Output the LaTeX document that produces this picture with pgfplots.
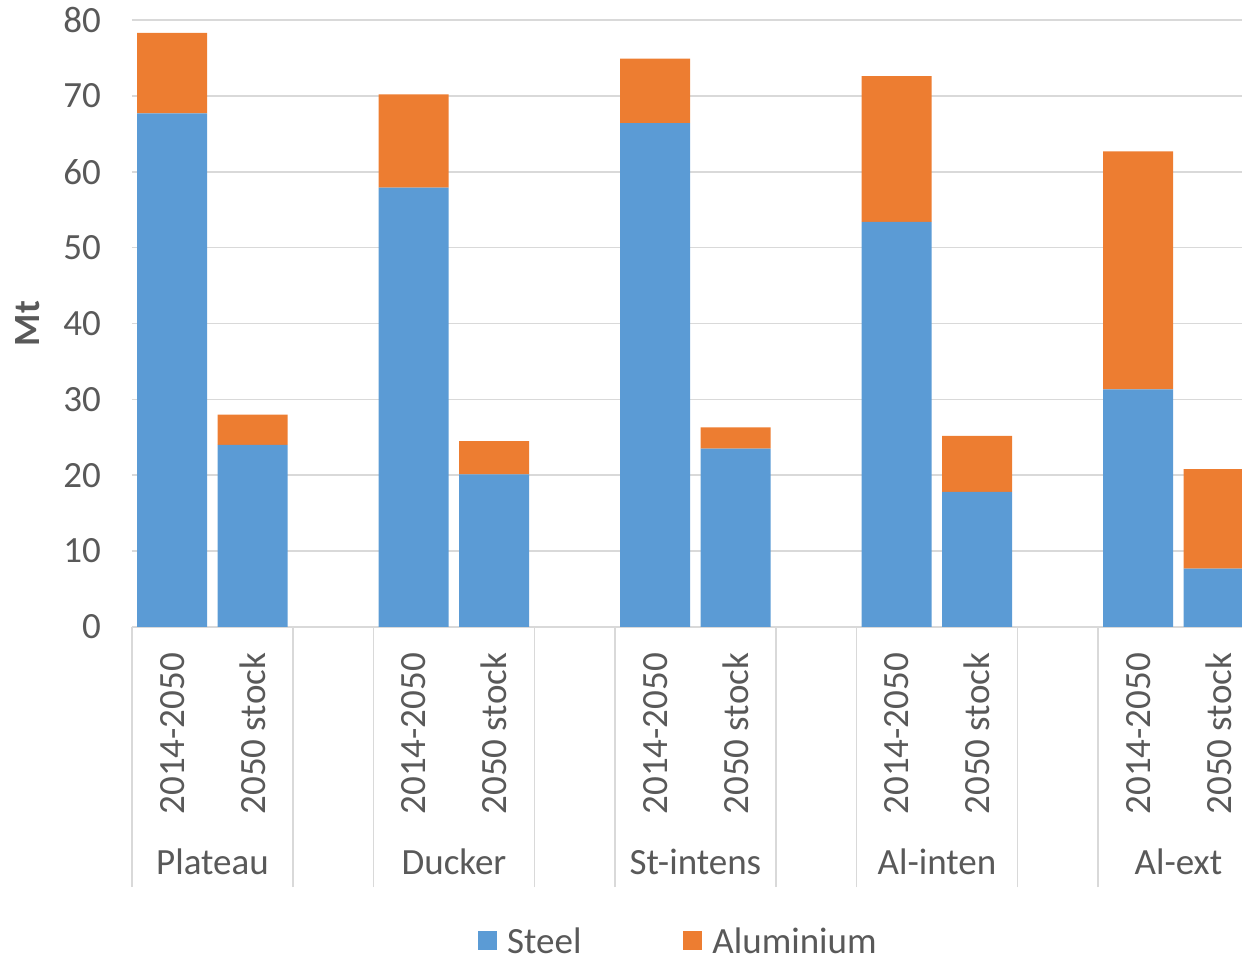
\documentclass[border=0pt]{standalone}
\usepackage{pgfplots}
\pgfplotsset{compat=1.18}
\usepackage{fontspec}
\setmainfont{Carlito}
\definecolor{steelc}{HTML}{5B9BD5}
\definecolor{aluc}{HTML}{ED7D31}
\definecolor{txt}{HTML}{595959}
\definecolor{gridc}{HTML}{D9D9D9}
\begin{document}
\begin{tikzpicture}[font=\fontsize{18.5}{22}\selectfont]
\begin{axis}[
  scale only axis,
  width=555pt, height=303.5pt,
  ybar stacked,
  bar width=35pt,
  xmin=-0.5, xmax=13.29,
  ymin=0, ymax=80,
  ytick={0,10,...,80},
  ymajorgrids,
  grid style={gridc, line width=0.8pt},
  axis line style={draw=none},
  major tick length=0pt,
  /pgf/number format/assume math mode=true,
  yticklabel style={txt, anchor=east, xshift=-12pt},
  xtick={0,1,3,4,6,7,9,10,12,13},
  xticklabels={2014-2050,2050 stock,2014-2050,2050 stock,2014-2050,2050 stock,2014-2050,2050 stock,2014-2050,2050 stock},
  xticklabel style={txt, rotate=90, anchor=east},
  xticklabel shift=9.5pt,
  extra x ticks={-0.5,1.5,2.5,4.5,5.5,7.5,8.5,10.5,11.5},
  extra x tick labels={},
  extra x tick style={major tick length=130pt, tick align=outside, xtick pos=bottom,
     tick style={gridc, line width=0.8pt}},
  ylabel={\bfseries Mt},
  ylabel style={txt, at={(axis description cs:0,0.5)}, anchor=center, yshift=52pt},
  legend columns=2,
  legend style={draw=none, fill=none, at={(0.4923,-0.516)}, anchor=center, inner sep=0pt,
     text=txt, nodes={inner sep=1pt, text depth=0pt},
     /tikz/every even column/.append style={column sep=50pt}},
  legend image code/.code={\fill[#1] (0pt,-4.75pt) rectangle (9.5pt,4.75pt);},
  clip mode=individual,
]
\addplot[fill=steelc, draw=none] coordinates {
 (0,67.7) (1,24.0) (3,57.9) (4,20.1) (6,66.4) (7,23.5) (9,53.4) (10,17.8) (12,31.3) (13,7.7)};
\addlegendentry{\hspace{4pt}Steel}
\addplot[fill=aluc, draw=none] coordinates {
 (0,10.6) (1,4.0) (3,12.3) (4,4.4) (6,8.5) (7,2.8) (9,19.2) (10,7.4) (12,31.4) (13,13.1)};
\addlegendentry{\hspace{4pt}Aluminium}
\node[txt] at (axis cs:0.5,0) [yshift=-117.5pt] {Plateau};
\node[txt] at (axis cs:3.5,0) [yshift=-117.5pt] {Ducker};
\node[txt] at (axis cs:6.5,0) [yshift=-117.5pt] {St-intens};
\node[txt] at (axis cs:9.5,0) [yshift=-117.5pt] {Al-inten};
\node[txt] at (axis cs:12.5,0) [yshift=-117.5pt] {Al-ext};
\end{axis}
\pgfresetboundingbox
\path[use as bounding box] ([shift={(-66pt,-168pt)}]current axis.south west) rectangle ([shift={(0pt,10pt)}]current axis.north east);
\end{tikzpicture}
\end{document}
